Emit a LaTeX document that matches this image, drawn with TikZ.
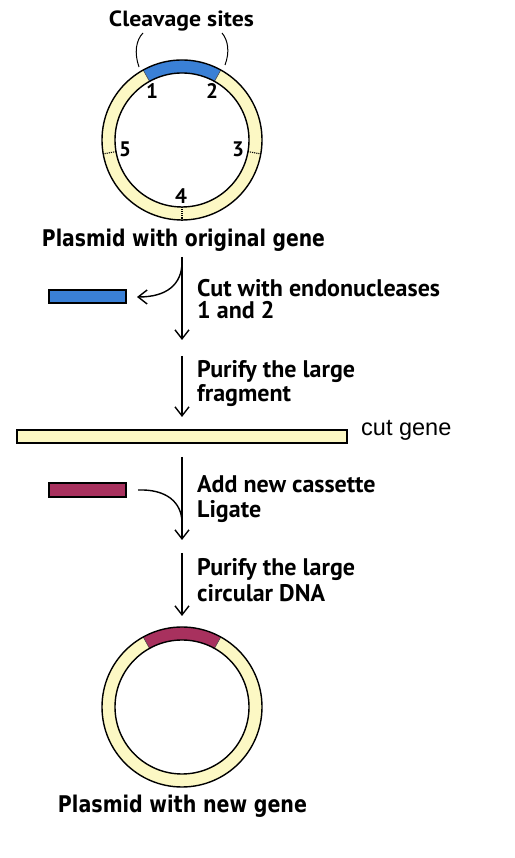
\documentclass[tikz,border=0pt]{standalone}
\usepackage{fontspec}
\setmainfont{PT Sans}
\newfontfamily\heavyfont{DejaVu Sans Condensed}
\newfontfamily\plainfont{Liberation Sans}
\usetikzlibrary{arrows.meta,calc}
\definecolor{ringY}{RGB}{252,248,196}
\definecolor{cutB}{RGB}{58,128,214}
\definecolor{newP}{RGB}{168,49,94}
\newcommand\drawplasmid[2]{%
  \fill[ringY, even odd rule] (#1) circle[radius=80] (#1) circle[radius=67];
  \fill[#2] ($(#1)+(61:80)$) arc[start angle=61,end angle=119,radius=80]
     -- ($(#1)+(119:67)$) arc[start angle=119,end angle=61,radius=67] -- cycle;
  \draw[line width=0.6pt, black!70] ($(#1)+(61:67)$) -- ($(#1)+(61:80)$);
  \draw[line width=0.6pt, black!70] ($(#1)+(119:67)$) -- ($(#1)+(119:80)$);
  \draw[ringline] (#1) circle[radius=80];
  \draw[ringline] (#1) circle[radius=67];
}
\begin{document}
\begin{tikzpicture}[x=1pt,y=1pt,
  ringline/.style={line width=1.4pt},
  barbox/.style={draw, line width=1.3pt, inner sep=0pt, anchor=center},
  label/.style={anchor=base west, inner sep=0pt, font=\bfseries\fontsize{24}{24}\selectfont},
  numlab/.style={anchor=base, inner sep=0pt, font=\bfseries\fontsize{21}{21}\selectfont},
  title/.style={anchor=base, inner sep=0pt, font=\heavyfont\bfseries\fontsize{23}{23}\selectfont},
  flow/.style={line width=1.4pt, -{Straight Barb[length=9pt,width=14pt,line width=1.4pt]}},
  tick/.style={densely dotted, line width=1.1pt}
]
\useasboundingbox (0,0) rectangle (514,858);
\fill[white] (0,0) rectangle (514,858);

% top plasmid
\coordinate (p1) at (182,718);
\drawplasmid{p1}{cutB}
\draw[tick] ($(p1)+(190:67)$) -- ($(p1)+(190:80)$);
\draw[tick] ($(p1)+(350:67)$) -- ($(p1)+(350:80)$);
\draw[tick] ($(p1)+(270:67)$) -- ($(p1)+(270:80)$);
\node[numlab] (n1) at (152,759) {1};
\node[numlab] (n2) at (212,759) {2};
\node[numlab] (n5) at (125,701) {5};
\node[numlab] (n3) at (238,701) {3};
\node[numlab] (n4) at (181,654) {4};
\node[numlab, font=\bfseries\fontsize{22}{22}\selectfont] (cleave) at (181.5,831) {\resizebox{145pt}{\height}{Cleavage sites}};
\coordinate (bl1) at (139,791);
\coordinate (bl2) at (143,825);
\coordinate (br1) at (225,793);
\coordinate (br2) at (222,825);
\draw[line width=1pt] (bl1) .. controls (134,805) and (136,818) .. (bl2);
\draw[line width=1pt] (br1) .. controls (230,806) and (228,818) .. (br2);
\node[title] (t1) at (183.5,611) {\resizebox{283pt}{\height}{Plasmid with original gene}};

% step 1
\coordinate (a1s) at (182,601);
\coordinate (a1e) at (182,518);
\draw[flow] (a1s) -- (a1e);
\node[barbox, fill=cutB, minimum width=77, minimum height=13] (bluebar) at (87.5,561.5) {};
\coordinate (c1s) at (182,596);
\coordinate (c1e) at (137,561);
\draw[flow] (c1s) .. controls (182,573) and (166,561) .. (c1e);
\node[label] (l1a) at (197,561) {Cut with endonucleases};
\node[label] (l1b) at (197,539) {1 and 2};

% step 2
\coordinate (a2s) at (182,502);
\coordinate (a2e) at (182,441);
\draw[flow] (a2s) -- (a2e);
\node[label] (l2a) at (197,480) {Purify the large};
\node[label] (l2b) at (197,456) {fragment};

% cut gene
\node[barbox, fill=ringY, minimum width=330, minimum height=13] (ybar) at (182,421.5) {};
\node[anchor=base west, inner sep=0pt, font=\plainfont\fontsize{23.5}{22}\selectfont] (cutg) at (361,422) {cut gene};

% step 3
\coordinate (a3s) at (182,401);
\coordinate (a3e) at (182,318);
\draw[flow] (a3s) -- (a3e);
\node[barbox, fill=newP, minimum width=77, minimum height=14] (pbar) at (87.5,368) {};
\coordinate (c3s) at (138,368);
\coordinate (c3e) at (182,335);
\draw[line width=1.4pt] (c3s) .. controls (166,369) and (182,356) .. (c3e);
\node[label] (l3a) at (197,365) {Add new cassette};
\node[label] (l3b) at (197,340) {Ligate};

% step 4
\coordinate (a4s) at (182,305);
\coordinate (a4e) at (182,242);
\draw[flow] (a4s) -- (a4e);
\node[label] (l4a) at (197,282) {Purify the large};
\node[label] (l4b) at (197,256) {circular DNA};

% bottom plasmid
\coordinate (p2) at (182,151);
\drawplasmid{p2}{newP}
\node[title] (t2) at (182.5,45) {\resizebox{249pt}{\height}{Plasmid with new gene}};
\end{tikzpicture}
\end{document}
